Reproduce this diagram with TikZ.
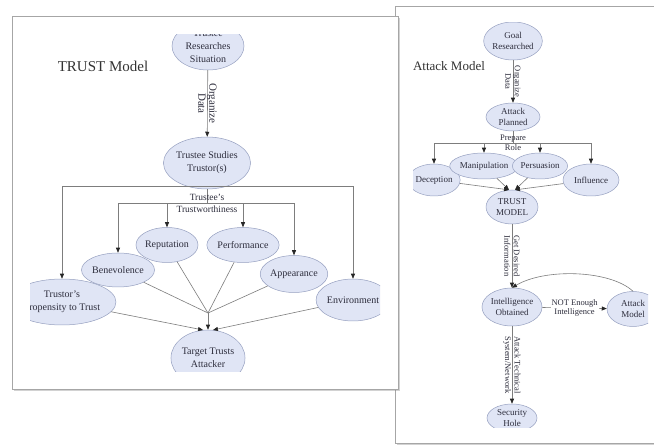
\documentclass[tikz,border=0pt]{standalone}
\usepackage{fontspec}
\setmainfont{Liberation Serif}
\usetikzlibrary{shapes.geometric,arrows.meta,shadows}
\definecolor{nodefill}{RGB}{224,229,245}
\definecolor{nodeline}{RGB}{150,160,192}
\definecolor{edgegray}{RGB}{125,125,125}
\definecolor{inkgray}{RGB}{45,45,60}
\tikzset{
  panel/.style={draw=gray!70,line width=0.9pt,fill=white,
    drop shadow={shadow xshift=1.5pt,shadow yshift=-2pt,opacity=0.35}},
  state/.style={ellipse,draw=nodeline,fill=nodefill,line width=0.5pt,
    inner sep=0pt,text=inkgray,align=center},
  bigstate/.style={state,font=\fontsize{10}{13}\selectfont},
  smallstate/.style={state,font=\fontsize{9}{10.5}\selectfont},
  link/.style={draw=edgegray,line width=0.6pt},
  arrowlink/.style={link,-{Triangle[length=5pt,width=4pt,color=black!85]}},
  sidelabel/.style={text=inkgray,align=center,inner sep=1pt},
  rotlabel/.style={sidelabel,rotate=-90},
  title/.style={text=black!80,inner sep=0pt},
}
\begin{document}
\begin{tikzpicture}[x=1pt,y=-1pt]
  \useasboundingbox[fill=white] (0,0) rectangle (654,446);
  % attack model panel
  \path[panel] (395,6) rectangle (664,443);
  \begin{scope}
    \clip (413,23) rectangle (648,428);
    \draw
      (449,66) node[title,font=\fontsize{13}{15}\selectfont] (attacktitle){Attack Model}
      (513,41) node[smallstate,minimum width=54,minimum height=38] (goal){Goal\\Researched}
      (513,117) node[smallstate,minimum width=54,minimum height=28] (planned){Attack\\Planned}
      (434,180) node[smallstate,minimum width=52,minimum height=32] (deception){Deception}
      (484,166) node[smallstate,minimum width=54,minimum height=26] (manipulation){Manipulation}
      (540,166) node[smallstate,minimum width=54,minimum height=26] (persuasion){Persuasion}
      (591,180) node[smallstate,minimum width=56,minimum height=32] (influence){Influence}
      (512,207) node[smallstate,minimum width=52,minimum height=34] (trustm){TRUST\\MODEL}
      (512,307) node[smallstate,minimum width=50,minimum height=38] (intel){Intelligence\\Obtained}
      (633,309) node[smallstate,minimum width=52,minimum height=35] (attackm){Attack\\Model}
      (512,418) node[smallstate,minimum width=50,minimum height=28] (security){Security\\Hole};
    \coordinate (role) at (513,143);
    \begin{scope}[font=\fontsize{8.5}{9.5}\selectfont]
      \draw[arrowlink] (goal) to node[rotlabel]{Organize\\Data} (planned);
      \draw[link] (planned) -- (role) node[sidelabel] (rolelabel){Prepare\\Role};
      \draw[arrowlink] (role) -| (deception);
      \draw[arrowlink] (role) -| (manipulation);
      \draw[arrowlink] (role) -| (persuasion);
      \draw[arrowlink] (role) -| (influence);
      \draw[arrowlink] (deception) to (trustm.100);
      \draw[arrowlink] (manipulation) to (trustm.100);
      \draw[arrowlink] (persuasion) to (trustm.80);
      \draw[arrowlink] (influence) to (trustm.80);
      \draw[arrowlink] (trustm) to node[rotlabel]{Get Desired\\Information} (intel);
      \draw[arrowlink] (intel) to node[sidelabel,fill=white]{NOT Enough\\Intelligence} (attackm);
      \draw[arrowlink] (attackm.north) .. controls (610,270) and (545,268) .. (intel.north);
      \draw[arrowlink] (intel) to node[rotlabel]{Attack Technical\\System/Network} (security);
    \end{scope}
  \end{scope}
  % trust model panel
  \path[panel] (12,16) rectangle (398,389);
  \begin{scope}
    \clip (30,35) rectangle (380,372);
    \draw
      (103,66) node[title,font=\fontsize{15}{17}\selectfont] (trusttitle){TRUST Model}
      (208,46) node[bigstate,minimum width=72,minimum height=48] (research){Trustee\\Researches\\Situation}
      (207,163) node[bigstate,minimum width=72,minimum height=52] (studies){Trustee Studies\\Trustor(s)}
      (167,245) node[bigstate,minimum width=56,minimum height=35] (reputation){Reputation}
      (243,245) node[bigstate,minimum width=64,minimum height=35] (performance){Performance}
      (118,270) node[bigstate,minimum width=67,minimum height=34] (benevolence){Benevolence}
      (294,274) node[bigstate,minimum width=65,minimum height=37] (appearance){Appearance}
      (62,302) node[bigstate,minimum width=82,minimum height=46] (propensity){Trustor's\\Propensity to Trust}
      (353,300) node[bigstate,minimum width=72,minimum height=42] (environment){Environment}
      (208,358) node[bigstate,minimum width=72,minimum height=56] (target){Target Trusts\\Attacker};
    \coordinate (outer) at (207,186);
    \coordinate (worth) at (207,203);
    \coordinate (merge) at (208,313);
    \draw[arrowlink] (research) to node[rotlabel,font=\fontsize{11}{11}\selectfont]{Organize\\Data} (studies);
    \draw[link] (studies) -- (worth) node[sidelabel,font=\fontsize{9.5}{12}\selectfont] (worthlabel){Trustee's\\Trustworthiness};
    \draw[arrowlink] (outer) -| (propensity);
    \draw[arrowlink] (outer) -| (environment);
    \draw[arrowlink] (worth) -| (benevolence);
    \draw[arrowlink] (worth) -| (reputation);
    \draw[arrowlink] (worth) -| (performance);
    \draw[arrowlink] (worth) -| (appearance);
    \begin{scope}[link]
      \draw (benevolence) to (merge);
      \draw (reputation) to (merge);
      \draw (performance) to (merge);
      \draw (appearance) to (merge);
    \end{scope}
    \draw[arrowlink] (merge) to (target);
    \draw[arrowlink] (propensity) to (target.100);
    \draw[arrowlink] (environment) to (target.80);
  \end{scope}
\end{tikzpicture}
\end{document}
